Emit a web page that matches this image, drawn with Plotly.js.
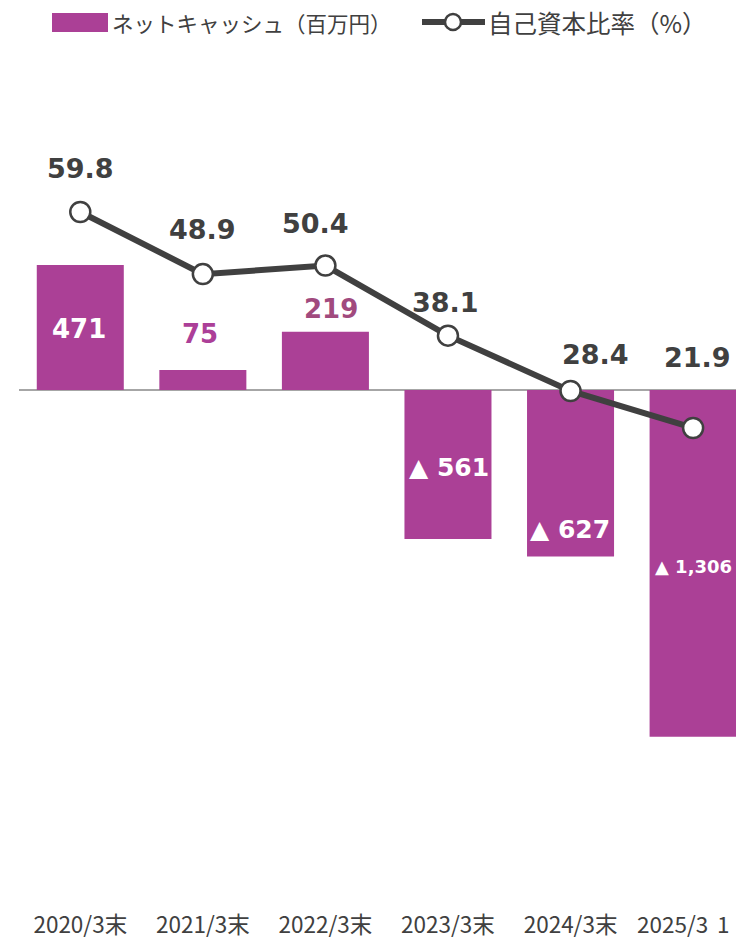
<!DOCTYPE html>
<html>
<head>
<meta charset="utf-8">
<script src="https://cdn.plot.ly/plotly-3.0.1.min.js"></script>
<style>html,body{margin:0;padding:0;background:#fff;overflow:hidden;}#chart{width:736px;height:938px;}</style>
</head>
<body>
<div id="chart"></div>
<script>
// ---- data ----
const categories = ['2020/3末', '2021/3末', '2022/3末', '2023/3末', '2024/3末', '2025/3'];
const netCash = [471, 75, 219, -561, -627, -1306];        // ネットキャッシュ（百万円）
const equityRatio = [59.8, 48.9, 50.4, 38.1, 28.4, 21.9]; // 自己資本比率（%）
const barLegend = 'ネットキャッシュ（百万円）';
const lineLegend = '自己資本比率（%）';
const nextCategoryFragment = '1'; // next (cropped) category label, only its first character is visible

// ---- styles ----
const W = 736, H = 938;
const px = v => v / W;
const py = v => 1 - v / H;
const barColor = '#AB4096';
const lineColor = '#404040';
const numFont = 'DejaVu Sans';
const jpFont = 'Noto Sans CJK JP, sans-serif';
const tickSize = 22.5;
const tickLabelY = 922.5;

// bar label placement styles: inside (mid) or above (top)
const barLabelMode = ['mid', 'top', 'top', 'mid', 'mid', 'mid'];
const barLabelShift = [-2, 36, 23, -3, -56, -3];
const barLabelXShift = [-1, -3, 6, 1, -1, 0];
const barLabelColor = ['#ffffff', '#AC3F98', '#A14A7E', '#ffffff', '#ffffff', '#ffffff'];
const barLabelSize = [26, 26, 26, 25, 25, 18];
// line label offsets
const lineLabelYShift = [44, 45, 42, 33, 36, 70];
const lineLabelXShift = [0, 0, -10, -2, 25, 4];

function fmtCash(v) {
  const s = Math.abs(v).toLocaleString('en-US');
  return v < 0 ? '▲ ' + s : s;
}

const traces = [
  {
    type: 'bar', x: categories, y: netCash, name: barLegend,
    marker: {color: barColor}, yaxis: 'y', hoverinfo: 'x+y'
  },
  {
    type: 'scatter', mode: 'lines+markers', x: categories, y: equityRatio, name: lineLegend,
    yaxis: 'y2',
    line: {color: lineColor, width: 6},
    marker: {size: 20, color: '#ffffff', line: {color: lineColor, width: 2.5}},
    cliponaxis: false
  }
];

const annotations = [];
netCash.forEach((v, i) => {
  annotations.push({
    x: categories[i], xref: 'x', yref: 'y',
    y: barLabelMode[i] === 'mid' ? v / 2 : v,
    yshift: barLabelShift[i], xshift: barLabelXShift[i],
    text: '<b>' + fmtCash(v) + '</b>', showarrow: false,
    font: {family: numFont, size: barLabelSize[i], color: barLabelColor[i]},
    xanchor: 'center', yanchor: 'middle'
  });
});
equityRatio.forEach((v, i) => {
  annotations.push({
    x: categories[i], xref: 'x', yref: 'y2', y: v,
    yshift: lineLabelYShift[i], xshift: lineLabelXShift[i],
    text: '<b>' + v.toFixed(1) + '</b>', showarrow: false,
    font: {family: numFont, size: 27, color: lineColor},
    xanchor: 'center', yanchor: 'middle'
  });
});
// custom legend texts
annotations.push({
  xref: 'paper', yref: 'paper', x: px(110), y: py(22), xanchor: 'left', yanchor: 'middle',
  text: barLegend, showarrow: false, font: {family: jpFont, size: 21.5, color: lineColor}
});
annotations.push({
  xref: 'paper', yref: 'paper', x: px(486), y: py(22), xanchor: 'left', yanchor: 'middle',
  text: lineLegend, showarrow: false, font: {family: jpFont, size: 24.5, color: lineColor}
});
// last category label sits left of its slot in the reference (cropped chart)
annotations.push({
  xref: 'x', yref: 'paper', x: categories[5], xshift: -21, y: py(tickLabelY),
  xanchor: 'center', yanchor: 'middle',
  text: categories[5], showarrow: false, font: {family: jpFont, size: tickSize, color: lineColor}
});
// cropped next category label fragment
annotations.push({
  xref: 'paper', yref: 'paper', x: px(715), y: py(tickLabelY), xanchor: 'left', yanchor: 'middle',
  text: nextCategoryFragment, showarrow: false, font: {family: jpFont, size: tickSize, color: lineColor}
});

const shapes = [
  {type: 'rect', xref: 'paper', yref: 'paper', x0: px(52), x1: px(108), y0: py(13), y1: py(32),
   fillcolor: barColor, line: {width: 0}},
  {type: 'line', xref: 'paper', yref: 'paper', x0: px(422), x1: px(485), y0: py(22), y1: py(22),
   line: {color: lineColor, width: 6}},
  {type: 'circle', xref: 'paper', yref: 'paper', xsizemode: 'pixel', ysizemode: 'pixel',
   xanchor: px(453), yanchor: py(22), x0: -8, x1: 8, y0: -8, y1: 8,
   fillcolor: '#ffffff', line: {color: lineColor, width: 2.5}}
];

// axis geometry
const yTopPx = 60, yBotPx = 909, zeroPx = 390, barScale = 0.2655;
const lineZeroPx = 552.8, lineScale = 5.699;

const layout = {
  width: W, height: H,
  margin: {l: 0, r: 0, t: 0, b: 0},
  paper_bgcolor: '#ffffff', plot_bgcolor: '#ffffff',
  showlegend: false,
  bargap: 0.29,
  xaxis: {
    domain: [px(19), 1], range: [-0.5, 5.35], type: 'category',
    tickvals: categories.slice(0, 5), ticktext: categories.slice(0, 5),
    showgrid: false, zeroline: false, showline: false, ticks: '',
    tickfont: {family: jpFont, size: tickSize, color: lineColor},
    fixedrange: true
  },
  yaxis: {
    domain: [py(yBotPx), py(yTopPx)],
    range: [-(yBotPx - zeroPx) / barScale, (zeroPx - yTopPx) / barScale],
    showgrid: false, showticklabels: false, ticks: '',
    zeroline: true, zerolinecolor: '#A6A6A6', zerolinewidth: 2.5
  },
  yaxis2: {
    overlaying: 'y', side: 'right',
    range: [-(yBotPx - lineZeroPx) / lineScale, (lineZeroPx - yTopPx) / lineScale],
    showgrid: false, showticklabels: false, zeroline: false, ticks: ''
  },
  annotations: annotations,
  shapes: shapes
};

Plotly.newPlot('chart', traces, layout, {displayModeBar: false, staticPlot: true});
</script>
</body>
</html>
